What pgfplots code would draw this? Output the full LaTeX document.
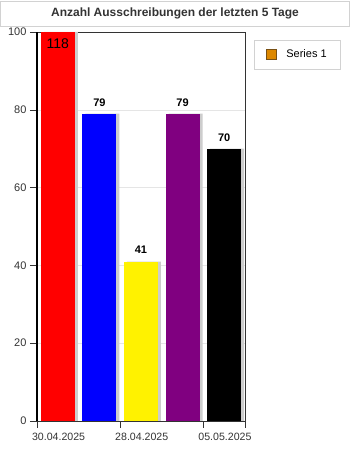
\documentclass[border=0pt]{standalone}
\usepackage{fontspec}
\setmainfont{Liberation Sans}
\usepackage{pgfplots}
\pgfplotsset{compat=1.18}
\definecolor{legorange}{RGB}{221,136,0}
\definecolor{legedge}{RGB}{120,80,20}
\definecolor{titlegray}{RGB}{51,51,51}
\definecolor{barpurple}{RGB}{128,0,128}
\definecolor{shadowgray}{RGB}{205,205,205}
\begin{document}
\begin{tikzpicture}
\begin{axis}[
  scale only axis, width=208pt, height=389pt,
  xmin=0, xmax=5, ymin=0, ymax=100,
  xtick={0,2,4,5}, xticklabels={30.04.2025,28.04.2025,05.05.2025,{}},
  ytick={0,20,...,100},
  xtick pos=bottom, ytick pos=left,
  tick align=outside, major tick length=7pt,
  tick style={black!80, thin},
  ymajorgrids, grid style={gray!20},
  axis line style={black!80, thin},
  tick label style={font=\fontsize{11}{13}\selectfont, text=titlegray},
  xticklabel style={anchor=north west, xshift=-8.5pt, yshift=-1.5pt, font=\fontsize{10.6}{13}\selectfont},
  /pgf/number format/assume math mode=true,
  ybar, bar shift=0pt, bar width=34pt,
  nodes near coords,
  every node near coord/.append style={font=\bfseries\fontsize{11}{13}\selectfont, black, anchor=south, yshift=4pt},
  legend style={at={(1.043,0.979)}, anchor=north west, draw=gray!35,
                font=\fontsize{11}{13}\selectfont, inner xsep=12pt, inner ysep=7.5pt,
                legend cell align=left},
  extra description/.code={
    % heavier left axis line
    \draw[line width=1.6pt, black] (rel axis cs:0,0) -- (rel axis cs:0,1);
    % page frame around the plot
    \path ([xshift=-37pt,yshift=-29pt]rel axis cs:0,0) rectangle ([xshift=105pt,yshift=32pt]rel axis cs:1,1);
    % title panel
    \node[draw=gray!35, minimum width=349pt, minimum height=25.5pt, inner sep=0pt,
          font=\bfseries\fontsize{12}{14}\selectfont, text=titlegray]
          at ([xshift=138pt,yshift=18.5pt]rel axis cs:0,1) {Anzahl Ausschreibungen der letzten 5 Tage};
  },
]
% bar shadows
\addplot[fill=shadowgray, draw=none, bar shift=3pt, nodes near coords={}, forget plot,
         restrict y to domain*=0:100] coordinates {(0.5,118) (1.5,79) (2.5,41) (3.5,79) (4.5,70)};
% bars
\addplot[fill=red, draw=none, forget plot, restrict y to domain*=0:100,
         point meta=explicit symbolic,
         every node near coord/.append style={anchor=north, yshift=-7pt,
           font=\fontsize{14}{16}\selectfont, text=black}]
  coordinates {(0.5,118) [118]};
\addplot[fill=blue, draw=none, forget plot] coordinates {(1.5,79)};
\addplot[fill=yellow, draw=none, forget plot] coordinates {(2.5,41)};
\addplot[fill=barpurple, draw=none, forget plot] coordinates {(3.5,79)};
\addplot[fill=black, draw=none, forget plot] coordinates {(4.5,70)};
% legend swatch, with room after it before the text
\addlegendimage{legend image code/.code={\draw[fill=legorange, draw=legedge] (0pt,-5pt) rectangle (10pt,5pt); \path[draw=none, fill=none] (10pt,0pt) -- (18pt,0pt);}}
\addlegendentry{Series 1}
\end{axis}
\end{tikzpicture}
\end{document}
